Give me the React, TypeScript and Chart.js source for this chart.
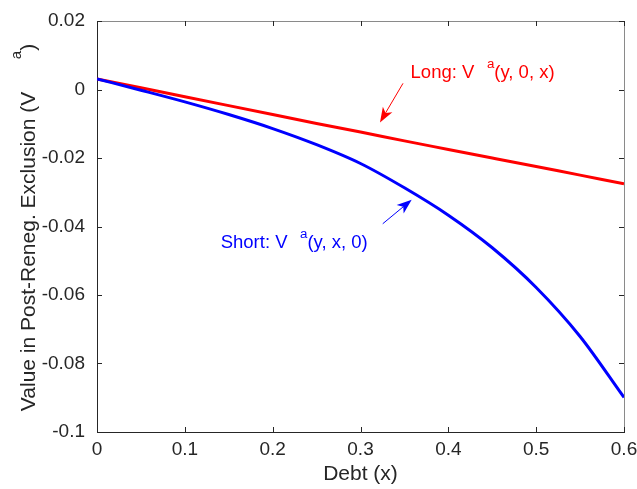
import React, { useEffect, useRef } from "react";
import { Chart, registerables } from "chart.js";

Chart.register(...registerables);

// ---- data ----
const debtValues = [0, 0.05, 0.1, 0.15, 0.2, 0.25, 0.3, 0.35, 0.4, 0.45, 0.5, 0.55, 0.6];
const longValues = [0.0031, 0.0005, -0.0021, -0.0047, -0.0073, -0.0099, -0.0124, -0.015, -0.0175, -0.02, -0.0225, -0.025, -0.0275];
const shortValues = [0.0031, -0.0002, -0.0036, -0.0073, -0.0114, -0.0161, -0.0216, -0.0287, -0.0367, -0.0462, -0.0578, -0.0721, -0.0899];
const xTickValues = [0, 0.1, 0.2, 0.3, 0.4, 0.5, 0.6];
const yTickValues = [0.02, 0, -0.02, -0.04, -0.06, -0.08, -0.1];

const xTitle = "Debt (x)";
const yTitleMain = "Value in Post-Reneg. Exclusion (V";
const yTitleSup = "a";
const yTitleEnd = ")";

const longLabel = { pre: "Long: V ", sup: "a", post: "(y, 0, x)" };
const shortLabel = { pre: "Short: V ", sup: "a", post: "(y, x, 0)" };

// annotation anchors in data units
const longTextAt = { x: 0.357, y: 0.0033 };
const longArrowFrom = { x: 0.3484, y: 0.0018 };
const longArrowTo = { x: 0.3222, y: -0.0096 };
const shortTextAt = { x: 0.1408, y: -0.0463 };
const shortArrowFrom = { x: 0.3253, y: -0.0392 };
const shortArrowTo = { x: 0.3583, y: -0.0322 };

const FONT = "'Liberation Sans', Arial, Helvetica, sans-serif";
const AXIS_COLOR = "#262626";

function fmt(v: number) {
  return String(Number(v.toFixed(2)));
}

function drawArrow(ctx: CanvasRenderingContext2D, x1: number, y1: number, x2: number, y2: number, color: string) {
  const ang = Math.atan2(y2 - y1, x2 - x1);
  const headLen = 15;
  const headHalf = 5.5;
  const back = 4;
  ctx.strokeStyle = color;
  ctx.fillStyle = color;
  ctx.lineWidth = 1;
  const bx = x2 - Math.cos(ang) * (headLen - back);
  const by = y2 - Math.sin(ang) * (headLen - back);
  ctx.beginPath();
  ctx.moveTo(x1, y1);
  ctx.lineTo(bx, by);
  ctx.stroke();
  const cx = x2 - Math.cos(ang) * headLen;
  const cy = y2 - Math.sin(ang) * headLen;
  const px = -Math.sin(ang);
  const py = Math.cos(ang);
  ctx.beginPath();
  ctx.moveTo(x2, y2);
  ctx.lineTo(cx + px * headHalf, cy + py * headHalf);
  ctx.lineTo(bx, by);
  ctx.lineTo(cx - px * headHalf, cy - py * headHalf);
  ctx.closePath();
  ctx.fill();
}

function drawSupText(
  ctx: CanvasRenderingContext2D,
  x: number,
  y: number,
  parts: { pre: string; sup: string; post: string },
  size: number,
  color: string
) {
  ctx.fillStyle = color;
  ctx.textAlign = "left";
  ctx.textBaseline = "alphabetic";
  ctx.font = `${size}px ${FONT}`;
  ctx.fillText(parts.pre, x, y);
  let cx = x + ctx.measureText(parts.pre).width + size * 0.4;
  const supSize = size * 0.72;
  ctx.font = `${supSize}px ${FONT}`;
  ctx.fillText(parts.sup, cx, y - size * 0.55);
  cx += ctx.measureText(parts.sup).width;
  ctx.font = `${size}px ${FONT}`;
  ctx.fillText(parts.post, cx, y);
}

const overlayPlugin = {
  id: "overlay",
  beforeDatasetsDraw(chart: any) {
    const { ctx, chartArea } = chart;
    const { left, right, top, bottom } = chartArea;
    const xs = chart.scales.x;
    const ys = chart.scales.y;
    ctx.save();
    ctx.lineWidth = 1;
    // top & right box lines
    ctx.strokeStyle = "#8a8a8a";
    ctx.beginPath();
    ctx.moveTo(left, top + 0.5);
    ctx.lineTo(right + 0.5, top + 0.5);
    ctx.lineTo(right + 0.5, bottom);
    ctx.stroke();
    // left & bottom
    ctx.strokeStyle = AXIS_COLOR;
    ctx.beginPath();
    ctx.moveTo(left + 0.5, top);
    ctx.lineTo(left + 0.5, bottom + 0.5);
    ctx.lineTo(right + 1, bottom + 0.5);
    ctx.stroke();
    // ticks
    const tl = 5;
    ctx.strokeStyle = AXIS_COLOR;
    ctx.beginPath();
    xTickValues.forEach((v) => {
      const px = Math.round(xs.getPixelForValue(v)) + 0.5;
      ctx.moveTo(px, bottom);
      ctx.lineTo(px, bottom - tl);
      ctx.moveTo(px, top);
      ctx.lineTo(px, top + tl);
    });
    yTickValues.forEach((v) => {
      const py = Math.round(ys.getPixelForValue(v)) + 0.5;
      ctx.moveTo(left, py);
      ctx.lineTo(left + tl, py);
      ctx.moveTo(right, py);
      ctx.lineTo(right - tl, py);
    });
    ctx.stroke();

    // x title
    ctx.fillStyle = AXIS_COLOR;
    ctx.font = `21px ${FONT}`;
    ctx.textAlign = "center";
    ctx.textBaseline = "alphabetic";
    ctx.fillText(xTitle, (left + right) / 2, bottom + 48);

    // y title (rotated)
    ctx.save();
    const baseX = 35;
    const cy = (top + bottom) / 2 + 1;
    ctx.translate(baseX, cy);
    ctx.rotate(-Math.PI / 2);
    ctx.textAlign = "left";
    ctx.font = `21px ${FONT}`;
    const wMain = ctx.measureText(yTitleMain).width;
    const gap = 21 * 1.55;
    ctx.font = `15px ${FONT}`;
    const wSup = ctx.measureText(yTitleSup).width;
    ctx.font = `21px ${FONT}`;
    const wEnd = ctx.measureText(yTitleEnd).width;
    const W = wMain + gap + wSup + wEnd;
    let lx = -W / 2;
    ctx.fillText(yTitleMain, lx, 0);
    lx += wMain + gap;
    ctx.font = `15px ${FONT}`;
    ctx.fillText(yTitleSup, lx, -14);
    lx += wSup;
    ctx.font = `21px ${FONT}`;
    ctx.fillText(yTitleEnd, lx, 0);
    ctx.restore();

    ctx.restore();
  },
  afterDatasetsDraw(chart: any) {
    const { ctx } = chart;
    const xs = chart.scales.x;
    const ys = chart.scales.y;
    const P = (p: { x: number; y: number }) => [xs.getPixelForValue(p.x), ys.getPixelForValue(p.y)];
    ctx.save();
    const [lx, ly] = P(longTextAt);
    drawSupText(ctx, lx, ly, longLabel, 18.5, "#ff0000");
    const [sx, sy] = P(shortTextAt);
    drawSupText(ctx, sx, sy, shortLabel, 18.5, "#0000ff");
    const [a1x, a1y] = P(longArrowFrom);
    const [a2x, a2y] = P(longArrowTo);
    drawArrow(ctx, a1x, a1y, a2x, a2y, "#ff0000");
    const [b1x, b1y] = P(shortArrowFrom);
    const [b2x, b2y] = P(shortArrowTo);
    drawArrow(ctx, b1x, b1y, b2x, b2y, "#0000ff");
    ctx.restore();
  },
};

export default function App() {
  const ref = useRef<HTMLCanvasElement | null>(null);
  useEffect(() => {
    if (!ref.current) return;
    const chart = new Chart(ref.current, {
      type: "line",
      data: {
        datasets: [
          {
            label: "Short",
            data: debtValues.map((x, i) => ({ x, y: shortValues[i] })),
            borderColor: "#0000ff",
            backgroundColor: "#0000ff",
            borderWidth: 3,
            pointRadius: 0,
            cubicInterpolationMode: "monotone",
          },
          {
            label: "Long",
            data: debtValues.map((x, i) => ({ x, y: longValues[i] })),
            borderColor: "#ff0000",
            backgroundColor: "#ff0000",
            borderWidth: 3,
            pointRadius: 0,
            cubicInterpolationMode: "monotone",
          },
        ],
      },
      options: {
        animation: false,
        responsive: false,
        devicePixelRatio: 1,
        layout: { padding: { left: 0, right: 13, top: 21, bottom: 0 } },
        plugins: { legend: { display: false }, tooltip: { enabled: false } },
        scales: {
          x: {
            type: "linear",
            min: 0,
            max: 0.6,
            grid: { display: false, drawTicks: false },
            border: { display: false },
            afterBuildTicks: (s: any) => {
              s.ticks = xTickValues.map((v) => ({ value: v }));
            },
            afterFit: (s: any) => {
              s.height = 57;
              s.paddingLeft = 0;
              s.paddingRight = 0;
            },
            ticks: {
              color: AXIS_COLOR,
              font: { family: FONT, size: 19 },
              padding: 6,
              maxRotation: 0,
              autoSkip: false,
              callback: (v: any) => fmt(Number(v)),
            },
          },
          y: {
            type: "linear",
            min: -0.1,
            max: 0.02,
            grid: { display: false, drawTicks: false },
            border: { display: false },
            afterBuildTicks: (s: any) => {
              s.ticks = yTickValues.map((v) => ({ value: v }));
            },
            afterFit: (s: any) => {
              s.width = 97;
              s.paddingTop = 0;
              s.paddingBottom = 0;
            },
            ticks: {
              color: AXIS_COLOR,
              font: { family: FONT, size: 19 },
              padding: 12,
              autoSkip: false,
              callback: (v: any) => fmt(Number(v)),
            },
          },
        },
      },
      plugins: [overlayPlugin],
    } as any);
    return () => chart.destroy();
  }, []);
  return (
    <div style={{ position: "absolute", left: 0, top: 0, width: 637, height: 489, background: "#fff" }}>
      <canvas ref={ref} width={637} height={489} style={{ display: "block" }} />
    </div>
  );
}
